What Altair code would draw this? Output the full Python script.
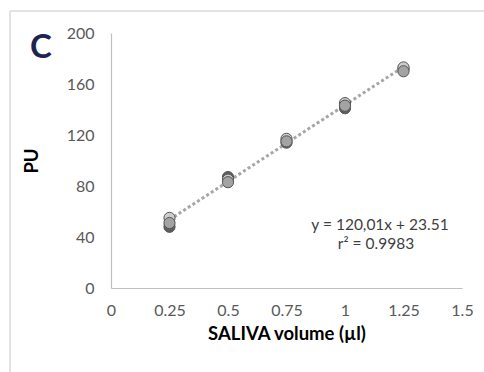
import altair as alt
import pandas as pd

# data
volumes = [0.25, 0.5, 0.75, 1.0, 1.25]
rep_light = [55, 85, 117, 145, 173]
rep_mid = [51, 83, 115, 143, 170]
rep_dark = [48, 87, 114, 141, 172]
slope = 120.01
intercept = 23.51
trend_x = [0.25, 1.25]
x_ticks = [0, 0.25, 0.5, 0.75, 1, 1.25, 1.5]
y_ticks = [0, 40, 80, 120, 160, 200]

rows = []
for name, vals in [("dark", rep_dark), ("mid", rep_mid), ("light", rep_light)]:
    for v, p in zip(volumes, vals):
        rows.append({"vol": v, "pu": p, "rep": name})
pts = pd.DataFrame(rows)
trend = pd.DataFrame({"vol": trend_x, "pu": [slope * t + intercept for t in trend_x]})

FONT = "Lato"
xs = alt.Scale(domain=[0, 1.5], nice=False)
ys = alt.Scale(domain=[0, 200], nice=False)

xax = alt.Axis(values=x_ticks, labelExpr="format(datum.value, '~g')", grid=False, ticks=False,
               domainColor="#bfbfbf", domainWidth=1.2, labelFontSize=16, labelColor="#595959",
               labelFont=FONT, labelPadding=14, labelFlush=False, title="SALIVA volume (µl)",
               titleFont=FONT, titleFontSize=18.5, titleFontWeight="bold", titleColor="#000000",
               titlePadding=6)
yax = alt.Axis(values=y_ticks, grid=False, ticks=False, domainColor="#bfbfbf", domainWidth=1.2,
               labelFontSize=16, labelColor="#595959", labelFont=FONT, labelPadding=17,
               labelFlush=False, title="PU", titleFont=FONT, titleFontSize=18.5,
               titleFontWeight="bold", titleColor="#000000", titlePadding=25)

line = alt.Chart(trend).mark_line(color="#a6a6a6", strokeWidth=3, strokeDash=[3, 2.5]).encode(
    x=alt.X("vol:Q", scale=xs, axis=xax),
    y=alt.Y("pu:Q", scale=ys, axis=yax),
)

points = alt.Chart(pts).mark_point(filled=True, size=125, opacity=1, stroke="#555555",
                                    strokeWidth=1).encode(
    x=alt.X("vol:Q", scale=xs),
    y=alt.Y("pu:Q", scale=ys),
    fill=alt.Fill("rep:N", scale=alt.Scale(domain=["dark", "mid", "light"],
                                            range=["#5e5e5e", "#a3a3a3", "#cdcdcd"]), legend=None),
    order=alt.Order("rep:N"),
)

ann = pd.DataFrame({"t": ["y = 120,01x + 23.51", "r\u00b2 = 0.9983"], "xp": [269, 265], "yp": [192, 211]})
ann_text = alt.Chart(ann).mark_text(font=FONT, fontSize=15.5, color="#404040", align="center",
                                    baseline="middle").encode(
    x=alt.X("xp:Q", scale=None), y=alt.Y("yp:Q", scale=None), text="t:N")

label = alt.Chart(pd.DataFrame({"t": ["C"]})).mark_text(font=FONT, fontSize=33, fontWeight="bold",
                                                        color="#1b2550", align="center",
                                                        baseline="middle").encode(
    x=alt.value(-70), y=alt.value(15), text="t:N")

frame_top = alt.Chart(pd.DataFrame({"a": [0]})).mark_rule(color="#d9d9d9", strokeWidth=1.5).encode(
    x=alt.value(-101), x2=alt.value(400), y=alt.value(-22))
frame_left = alt.Chart(pd.DataFrame({"a": [0]})).mark_rule(color="#d9d9d9", strokeWidth=1.5).encode(
    x=alt.value(-101), y=alt.value(-22), y2=alt.value(400))

chart = alt.layer(frame_top, frame_left, line, points, ann_text, label).properties(
    width=351, height=255,
    padding={"left": 111, "top": 33, "right": 22, "bottom": 84},
    autosize=alt.AutoSizeParams(type="none"),
    background="white",
).configure_view(stroke=None)

chart.save("out.html", embed_options={"renderer": "svg", "actions": False})
